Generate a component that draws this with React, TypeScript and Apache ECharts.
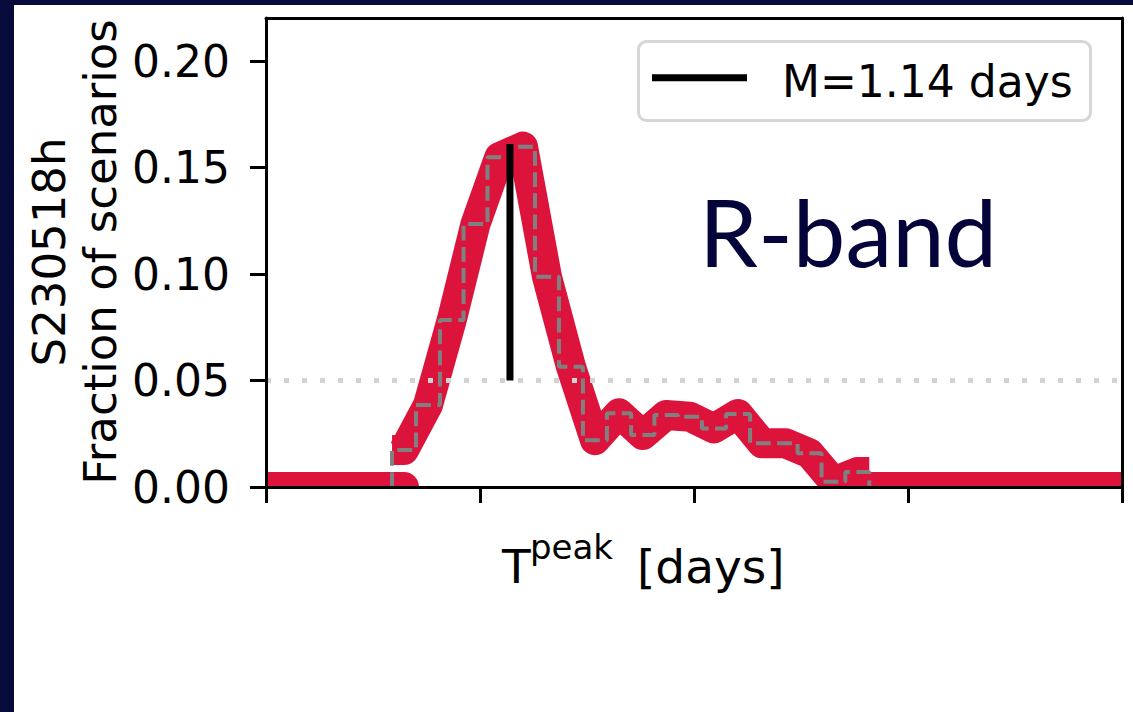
import React, { useEffect, useRef } from "react";
import * as echarts from "echarts";

// Histogram of peak times (days) and the fraction of scenarios in each bin
const BIN_EDGES = [
  0.589, 0.701, 0.813, 0.923, 1.035, 1.145, 1.257, 1.369, 1.481, 1.593, 1.706,
  1.815, 1.925, 2.037, 2.15, 2.262, 2.374, 2.484, 2.596, 2.707, 2.819,
];
const FRACTIONS = [
  0.0174, 0.0385, 0.0784, 0.1235, 0.1548, 0.1598, 0.0987, 0.0565, 0.022, 0.0346,
  0.0244, 0.0338, 0.033, 0.0275, 0.0343, 0.0205, 0.0205, 0.0158, 0.0025, 0.007,
];
const X_TICKS = [0, 1, 2, 3, 4];
const Y_TICKS = [0, 0.05, 0.1, 0.15, 0.2];
const X_RANGE = [0, 4];
const Y_RANGE = [0, 0.2202];
const MEDIAN_DAYS = 1.14;
const MEDIAN_SPAN = [0.05, 0.161];
const THRESHOLD = 0.05;

const NAVY = "#070b3b";
const CRIMSON = "#dc143c";
const FONT = "DejaVu Sans";

// plot area inside the chart canvas
const GRID = { left: 252, top: 13, right: 11, bottom: 225 };
const CHART_W = 1119;
const CHART_H = 707;

// bin centres for the thick band
const centers = FRACTIONS.map((_, i) => (BIN_EDGES[i] + BIN_EDGES[i + 1]) / 2);
const last = FRACTIONS.length - 1;
const bandPoints = [
  [BIN_EDGES[0], FRACTIONS[0]],
  ...centers.map((c, i) => [c, FRACTIONS[i]]),
  [BIN_EDGES[BIN_EDGES.length - 1], FRACTIONS[last]],
];
// outline of the histogram (steps)
const stepPoints = [
  [BIN_EDGES[0], 0],
  ...FRACTIONS.map((v, i) => [BIN_EDGES[i], v]),
  [BIN_EDGES[BIN_EDGES.length - 1], 0],
];

const baseLine = (data: number[][], cap: string) => ({
  type: "line",
  data,
  symbol: "none",
  silent: true,
  lineStyle: { color: CRIMSON, width: 30, cap, join: "round" },
  z: 2,
});

// white masks that trim the wide strokes at the edges of the plot area
const gridRight = CHART_W - GRID.right;
const gridBottom = CHART_H - GRID.bottom;
const masks = [
  { x: 0, y: gridBottom, width: CHART_W, height: CHART_H - gridBottom },
  { x: gridRight, y: 0, width: CHART_W - gridRight, height: CHART_H },
  { x: 0, y: 0, width: GRID.left, height: CHART_H },
].map((shape) => ({
  type: "rect",
  shape,
  style: { fill: "#ffffff" },
  silent: true,
  z: 7,
}));

const option: any = {
  animation: false,
  backgroundColor: "#ffffff",
  grid: { ...GRID, containLabel: false },
  xAxis: [
    {
      type: "value",
      min: X_RANGE[0],
      max: X_RANGE[1],
      z: 10,
      axisLine: { show: true, onZero: false, lineStyle: { color: "#000", width: 3 } },
      axisTick: {
        show: true,
        inside: false,
        length: 16,
        customValues: X_TICKS,
        lineStyle: { color: "#000", width: 3 },
      },
      axisLabel: { show: false },
      splitLine: { show: false },
    },
    {
      type: "value",
      position: "top",
      min: X_RANGE[0],
      max: X_RANGE[1],
      z: 10,
      axisLine: { show: true, onZero: false, lineStyle: { color: "#000", width: 3 } },
      axisTick: { show: false },
      axisLabel: { show: false },
      splitLine: { show: false },
    },
  ],
  yAxis: [
    {
      type: "value",
      min: Y_RANGE[0],
      max: Y_RANGE[1],
      z: 10,
      axisLine: { show: true, onZero: false, lineStyle: { color: "#000", width: 3 } },
      axisTick: {
        show: true,
        inside: false,
        length: 16,
        customValues: Y_TICKS,
        lineStyle: { color: "#000", width: 3 },
      },
      axisLabel: {
        show: true,
        customValues: Y_TICKS,
        margin: 36,
        fontSize: 44,
        fontFamily: FONT,
        color: "#000",
        padding: [8, 0, 0, 0],
        formatter: (v: number) => v.toFixed(2),
      },
      splitLine: { show: false },
    },
    {
      type: "value",
      position: "right",
      min: Y_RANGE[0],
      max: Y_RANGE[1],
      z: 10,
      axisLine: { show: true, onZero: false, lineStyle: { color: "#000", width: 3 } },
      axisTick: { show: false },
      axisLabel: { show: false },
      splitLine: { show: false },
    },
  ],
  series: [
    baseLine([[X_RANGE[0], 0], [centers[0], 0]], "round"),
    baseLine([[centers[last], 0], [X_RANGE[1], 0]], "round"),
    {
      type: "line",
      data: bandPoints,
      symbol: "none",
      silent: true,
      lineStyle: { color: CRIMSON, width: 30, cap: "butt", join: "round" },
      z: 2,
    },
    {
      type: "line",
      data: stepPoints,
      step: "end",
      symbol: "none",
      silent: true,
      lineStyle: { color: "#808080", width: 4, type: [14.8, 6.4], cap: "butt" },
      z: 3,
    },
    {
      type: "line",
      data: [
        [X_RANGE[0], THRESHOLD],
        [X_RANGE[1], THRESHOLD],
      ],
      symbol: "none",
      silent: true,
      lineStyle: { color: "#d3d3d3", width: 5, type: [5, 13], cap: "butt" },
      z: 4,
    },
    {
      type: "line",
      data: [
        [MEDIAN_DAYS, MEDIAN_SPAN[0]],
        [MEDIAN_DAYS, MEDIAN_SPAN[1]],
      ],
      symbol: "none",
      silent: true,
      lineStyle: { color: "#000", width: 7, cap: "butt" },
      z: 5,
    },
  ],
  graphic: [
    ...masks,
    // y-axis title
    {
      type: "text",
      x: 61,
      y: 247,
      rotation: Math.PI / 2,
      z: 11,
      style: {
        text: "S230518h\nFraction of scenarios",
        fontSize: 45,
        fontFamily: FONT,
        lineHeight: 51,
        fill: "#000",
        align: "center",
        verticalAlign: "middle",
      },
    },
    // x-axis title
    {
      type: "text",
      x: 488,
      y: 561,
      z: 11,
      style: { text: "T", fontSize: 47, fontFamily: FONT, fill: "#000", align: "left", verticalAlign: "middle" },
    },
    {
      type: "text",
      x: 516,
      y: 542,
      z: 11,
      style: { text: "peak", fontSize: 34, fontFamily: FONT, fill: "#000", align: "left", verticalAlign: "middle" },
    },
    {
      type: "text",
      x: 623,
      y: 561,
      z: 11,
      style: { text: "[days]", fontSize: 47, fontFamily: FONT, fill: "#000", align: "left", verticalAlign: "middle" },
    },
    // band annotation
    {
      type: "text",
      x: 685,
      y: 225,
      z: 11,
      style: {
        text: "R-band",
        fontSize: 94,
        fontFamily: "Lato",
        fontWeight: 400,
        fill: "#04043a",
        stroke: "#ffffff",
        lineWidth: 1.4,
        align: "left",
        verticalAlign: "middle",
      },
    },
    // legend box
    {
      type: "rect",
      shape: { x: 624.5, y: 36.5, width: 452, height: 79, r: 8 },
      style: { fill: "rgba(255,255,255,0.8)", stroke: "#d6d6d6", lineWidth: 3 },
      z: 20,
    },
    {
      type: "line",
      shape: { x1: 638, y1: 72.7, x2: 733, y2: 72.7 },
      style: { stroke: "#000", lineWidth: 7 },
      z: 21,
    },
    {
      type: "text",
      x: 768,
      y: 76,
      style: { text: "M=1.14 days", fontSize: 44, fontFamily: FONT, fill: "#000", align: "left", verticalAlign: "middle" },
      z: 21,
    },
  ],
};

export default function App() {
  const ref = useRef<HTMLDivElement>(null);
  useEffect(() => {
    if (!ref.current) return;
    const chart = echarts.init(ref.current, null, { renderer: "svg" });
    chart.setOption(option);
    return () => chart.dispose();
  }, []);
  return (
    <div
      style={{
        position: "absolute",
        left: 0,
        top: 0,
        width: 1133,
        height: 712,
        background: NAVY,
        overflow: "hidden",
      }}
    >
      <div
        ref={ref}
        style={{
          position: "absolute",
          left: 14,
          top: 5,
          width: CHART_W,
          height: CHART_H,
          background: "#fff",
        }}
      />
    </div>
  );
}
